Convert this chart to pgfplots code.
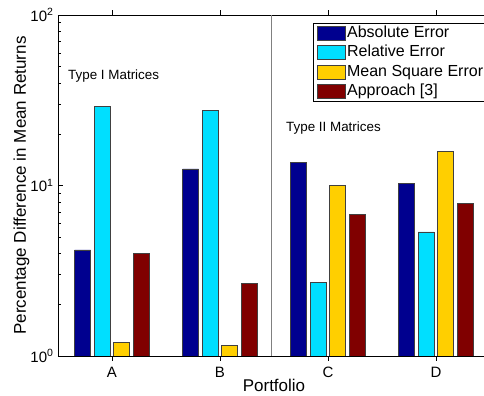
\documentclass[border=0pt]{standalone}
\usepackage{pgfplots}
\pgfplotsset{compat=1.18}
\usepackage{fontspec}
\setmainfont{Liberation Sans}
\definecolor{cnavy}{RGB}{0,0,143}
\definecolor{ccyan}{RGB}{0,223,255}
\definecolor{cyell}{RGB}{255,207,0}
\definecolor{cmaroon}{RGB}{128,0,0}
\pgfplotsset{
  mylegend/.style={legend image code/.code={\draw[##1,line width=0.8bp] (0bp,-7bp) rectangle (28bp,7bp);}}
}
\begin{document}
\begin{tikzpicture}
\path[use as bounding box] (-58bp,-40bp) rectangle (426bp,356bp);
\begin{axis}[
  at={(0,0)}, anchor=south west,
  scale only axis, width=432bp, height=341bp,
  xmin=0.5, xmax=4.5, ymin=1, ymax=100, ymode=log,
  xtick={1,2,3,4}, xticklabels={A,B,C,D},
  ytick={1,10,100},
  yticklabels={10\textsuperscript{0},10\textsuperscript{1},10\textsuperscript{2}},
  minor ytick={2,3,4,5,6,7,8,9,20,30,40,50,60,70,80,90},
  ybar=3.6bp, bar width=16bp,
  axis line style={line width=0.8bp},
  tick style={black, line width=0.6bp},
  major tick length=5bp, minor tick length=3bp,
  tick label style={font=\fontsize{15bp}{18bp}\selectfont},
  xticklabel style={anchor=base, yshift=-17bp},
  yticklabel style={xshift=-1bp},
  xlabel={Portfolio},
  ylabel={Percentage Difference in Mean Returns},
  label style={font=\fontsize{17bp}{20bp}\selectfont},
  xlabel style={at={(axis description cs:0.5,0)}, anchor=base, yshift=-35bp},
  ylabel style={at={(axis description cs:-0.0741,0.5)}, anchor=base},
  legend style={at={(0.590,0.9765)}, anchor=north west, draw=black, line width=0.8bp,
    font=\fontsize{16bp}{19bp}\selectfont, inner xsep=4bp, inner ysep=1bp,
    nodes={inner sep=1bp, text height=11.7bp, text depth=3.7bp}, row sep=2.1bp, column sep=0bp},
  legend cell align=left,
]
\addplot[fill=cnavy, draw=black!75, line width=0.8bp, mylegend] coordinates {(1,4.19) (2,12.5) (3,13.7) (4,10.3)};
\addplot[fill=ccyan, draw=black!75, line width=0.8bp, mylegend] coordinates {(1,29.0) (2,27.6) (3,2.69) (4,5.34)};
\addplot[fill=cyell, draw=black!75, line width=0.8bp, mylegend] coordinates {(1,1.197) (2,1.155) (3,10.0) (4,15.9)};
\addplot[fill=cmaroon, draw=black!75, line width=0.8bp, mylegend] coordinates {(1,4.0) (2,2.66) (3,6.78) (4,7.82)};
\legend{Absolute Error, Relative Error, Mean Square Error, Approach [3]}
\draw[black!50, line width=1bp] (axis cs:2.48,1) -- (axis cs:2.48,100);
\node[anchor=base west, font=\fontsize{13.4bp}{16bp}\selectfont, inner sep=0pt] at (axis cs:0.5926,42.1) {Type I Matrices};
\node[anchor=base west, font=\fontsize{13.4bp}{16bp}\selectfont, inner sep=0pt] at (axis cs:2.611,20.6) {Type II Matrices};
\end{axis}
\end{tikzpicture}
\end{document}
